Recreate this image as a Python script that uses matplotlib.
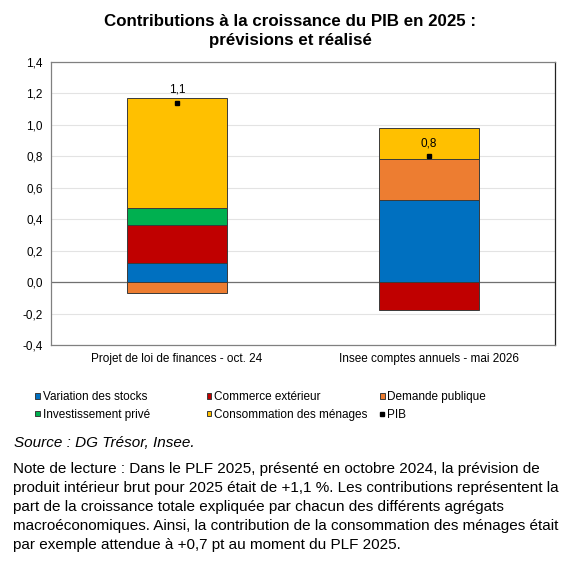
import matplotlib
matplotlib.use("Agg")
import matplotlib.pyplot as plt
import numpy as np

plt.rcParams["font.family"] = ["Liberation Sans", "DejaVu Sans"]

# data
categories = ["Projet de loi de finances - oct. 24", "Insee comptes annuels - mai 2026"]
series_names = ["Variation des stocks", "Commerce extérieur", "Demande publique",
                "Investissement privé", "Consommation des ménages"]
stocks = [0.12, 0.52]
commerce = [0.24, -0.18]
demande = [-0.07, 0.26]
invest = [0.11, 0.0]
conso = [0.70, 0.20]
pib = [1.14, 0.80]
colors = ["#0070C0", "#C00000", "#ED7D31", "#00B050", "#FFC000"]

fig = plt.figure(figsize=(5.8, 5.62), dpi=100)
ax = fig.add_axes([0.088, 0.386, 0.869, 0.504])

x = np.arange(len(categories))
pos_base = np.zeros(len(x))
neg_base = np.zeros(len(x))
handles = []
for name, vals, col in zip(series_names, [stocks, commerce, demande, invest, conso], colors):
    vals = np.array(vals)
    bottom = np.where(vals >= 0, pos_base, neg_base)
    b = ax.bar(x, vals, 0.4, bottom=bottom, color=col, edgecolor="#3a3a3a",
               linewidth=0.7, label=name, zorder=3)
    handles.append(b)
    pos_base += np.where(vals >= 0, vals, 0)
    neg_base += np.where(vals < 0, vals, 0)

pt, = ax.plot(x, pib, "s", color="black", markersize=3, linestyle="none", label="PIB", zorder=4)
for xi, v in zip(x, pib):
    ax.annotate(f"{v:.1f}".replace(".", ","), (xi, v), xytext=(0, 5), textcoords="offset points",
                ha="center", va="bottom", fontsize=8.5)

ax.set_xlim(-0.5, 1.5)
ax.set_ylim(-0.4, 1.4)
yt = np.arange(-0.4, 1.41, 0.2)
ax.set_yticks(yt)
ax.set_yticklabels([f"{t:.1f}".replace(".", ",").replace("-0,0", "0,0") for t in yt], fontsize=8.5)
ax.set_xticks(x)
ax.set_xticklabels(categories, fontsize=8.5)
ax.tick_params(length=0, pad=6)
ax.grid(axis="y", color="#e3e3e3", linewidth=0.8, zorder=0)
ax.axhline(0, color="#707070", linewidth=0.9, zorder=2)
for s in ax.spines.values():
    s.set_color("#808080")
    s.set_linewidth(0.9)
ax.spines["right"].set_color("#222222")

fig.text(0.5, 0.945, "Contributions à la croissance du PIB en 2025 :\nprévisions et réalisé",
         ha="center", va="center", fontsize=12.2, fontweight="bold", linespacing=1.4)

# legend laid out in three fixed-width columns, as in the reference
leg_cols = [([handles[0], handles[3]], [series_names[0], series_names[3]]),
            ([handles[1], handles[4]], [series_names[1], series_names[4]]),
            ([handles[2], pt], [series_names[2], "PIB"])]
for (hs, ls), xa in zip(leg_cols, [0.053, 0.348, 0.647]):
    fig.legend(hs, ls, loc="upper left", bbox_to_anchor=(xa, 0.313), ncol=1,
               frameon=False, fontsize=8.5, handlelength=0.4, handleheight=0.4,
               handletextpad=0.2, labelspacing=0.5, borderaxespad=0)

fig.text(0.025, 0.212, "Source : DG Trésor, Insee.", fontsize=11, style="italic", va="center")
note = ("Note de lecture : Dans le PLF 2025, présenté en octobre 2024, la prévision de\n"
        "produit intérieur brut pour 2025 était de +1,1 %. Les contributions représentent la\n"
        "part de la croissance totale expliquée par chacun des différents agrégats\n"
        "macroéconomiques. Ainsi, la contribution de la consommation des ménages était\n"
        "par exemple attendue à +0,7 pt au moment du PLF 2025.")
fig.text(0.023, 0.178, note, fontsize=11, va="top", linespacing=1.45)

fig.savefig("out.png", dpi=100)
